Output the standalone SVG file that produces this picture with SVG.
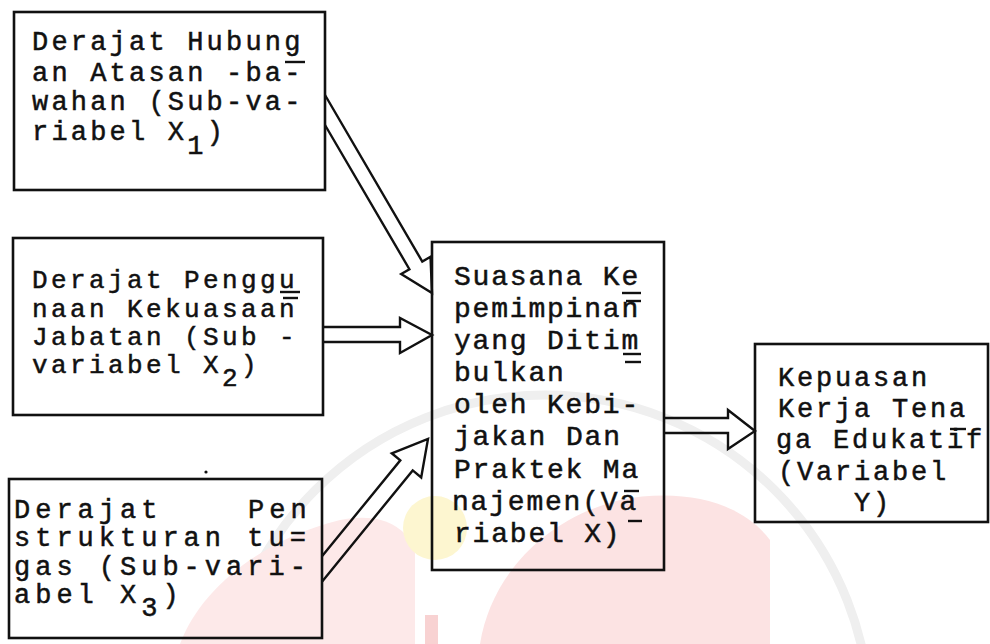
<svg xmlns="http://www.w3.org/2000/svg" width="990" height="644" viewBox="0 0 990 644">
<style>
.box{fill:none;stroke:#111;stroke-width:2.6}
.t{font-family:"Liberation Mono","Courier New",monospace;fill:#111;stroke:#111;stroke-width:0.5}
.s1{font-size:27px;letter-spacing:3.2px}
.s2{font-size:26px;letter-spacing:3.4px}
.s3{font-size:27px;letter-spacing:5px}
.sc{font-size:28px;letter-spacing:1.8px}
.sk{font-size:27px;letter-spacing:2.8px}
.arr{fill:none;stroke:#111;stroke-width:2.4;stroke-linejoin:miter}
.mk{stroke:#111;stroke-width:2.4}
</style>
<rect width="990" height="644" fill="#fff"/>
<g id="watermark">
<circle cx="545" cy="720" r="325" fill="none" stroke="#efefef" stroke-width="9"/>
<path d="M180,644 C200,590 260,540 340,520 C380,512 405,525 415,550 L415,644 Z" fill="#fde9e9"/>
<path d="M480,644 C490,580 540,520 620,500 C680,488 740,500 770,540 L770,644 Z" fill="#fce3e3"/>
<rect x="425" y="615" width="13" height="29" fill="#f8d2d2"/>
<circle cx="435" cy="528" r="32" fill="#fdf6d0"/>
</g>
<g id="connectors">
<path class="arr" d="M325,95 L422.3,261.6 L430.5,256.8 L432,293 L401.2,274 L409.4,269.2 L325,125"/>
<path class="arr" d="M323,327 L400,327 L400,318 L432,335 L400,353 L400,342 L323,342"/>
<path class="arr" d="M322,556.3 L400.3,460.3 L391.8,453.3 L428,439 L421.2,477.4 L412.7,470.4 L322,581.7"/>
<path class="arr" d="M664,418 L728,418 L728,410 L755,431 L728,449 L728,433 L664,433"/>
</g>
<g id="node-x1">
<rect class="box" x="14" y="12" width="311" height="178"/>
<text class="t s1" x="32" y="50">Derajat Hubung</text>
<text class="t s1" x="32" y="81">an Atasan -ba-</text>
<text class="t s1" x="32" y="110">wahan (Sub-va-</text>
<text class="t s1" x="32" y="140">riabel X<tspan dy="14">1</tspan><tspan dy="-14">)</tspan></text>
<line class="mk" x1="285" y1="62" x2="305" y2="62"/>
</g>
<g id="node-x2">
<rect class="box" x="13" y="238" width="310" height="177"/>
<text class="t s2" x="32" y="288">Derajat Penggu</text>
<text class="t s2" x="32" y="317">naan Kekuasaan</text>
<text class="t s2" x="32" y="345">Jabatan (Sub -</text>
<text class="t s2" x="32" y="373">variabel X<tspan dy="13">2</tspan><tspan dy="-13">)</tspan></text>
<line class="mk" x1="280" y1="292" x2="300" y2="292"/>
<line class="mk" x1="283" y1="298" x2="298" y2="298"/>
</g>
<g id="node-x3">
<rect class="box" x="9" y="479" width="313" height="159"/>
<circle cx="206" cy="472" r="1.6" fill="#111"/>
<text class="t s3" x="14" y="518">Derajat<tspan x="248">Pen</tspan></text>
<text class="t s3" x="14" y="546">strukturan tu=</text>
<text class="t s3" x="14" y="575">gas (Sub-vari-</text>
<text class="t s3" x="14" y="603">abel X<tspan dy="13">3</tspan><tspan dy="-13">)</tspan></text>
</g>
<g id="node-x">
<rect class="box" x="432" y="242" width="232" height="328"/>
<text class="t sc" x="454" y="285">Suasana Ke</text>
<text class="t sc" x="454" y="317">pemimpinan</text>
<text class="t sc" x="454" y="349">yang Ditim</text>
<text class="t sc" x="454" y="381">bulkan</text>
<text class="t sc" x="454" y="413">oleh Kebi-</text>
<text class="t sc" x="454" y="445">jakan<tspan x="566">Dan</tspan></text>
<text class="t sc" x="454" y="478">Praktek Ma</text>
<text class="t sc" x="452" y="510">najemen(Va</text>
<text class="t sc" x="454" y="542">riabel X)</text>
<line class="mk" x1="622" y1="293" x2="641" y2="293"/>
<line class="mk" x1="626" y1="301" x2="641" y2="301"/>
<line class="mk" x1="623" y1="354" x2="641" y2="354"/>
<line class="mk" x1="625" y1="362" x2="641" y2="362"/>
<line class="mk" x1="624" y1="491" x2="639" y2="491"/>
<line class="mk" x1="628" y1="521" x2="642" y2="521"/>
</g>
<g id="node-y">
<rect class="box" x="755" y="344" width="233" height="178"/>
<text class="t sk" x="778" y="386">Kepuasan</text>
<text class="t sk" x="778" y="417">Kerja Tena</text>
<text class="t sk" x="776" y="448">ga Edukatif</text>
<text class="t sk" x="778" y="480">(Variabel</text>
<text class="t sk" x="854" y="511">Y)</text>
<line class="mk" x1="950" y1="429" x2="966" y2="429"/>
</g>
</svg>
